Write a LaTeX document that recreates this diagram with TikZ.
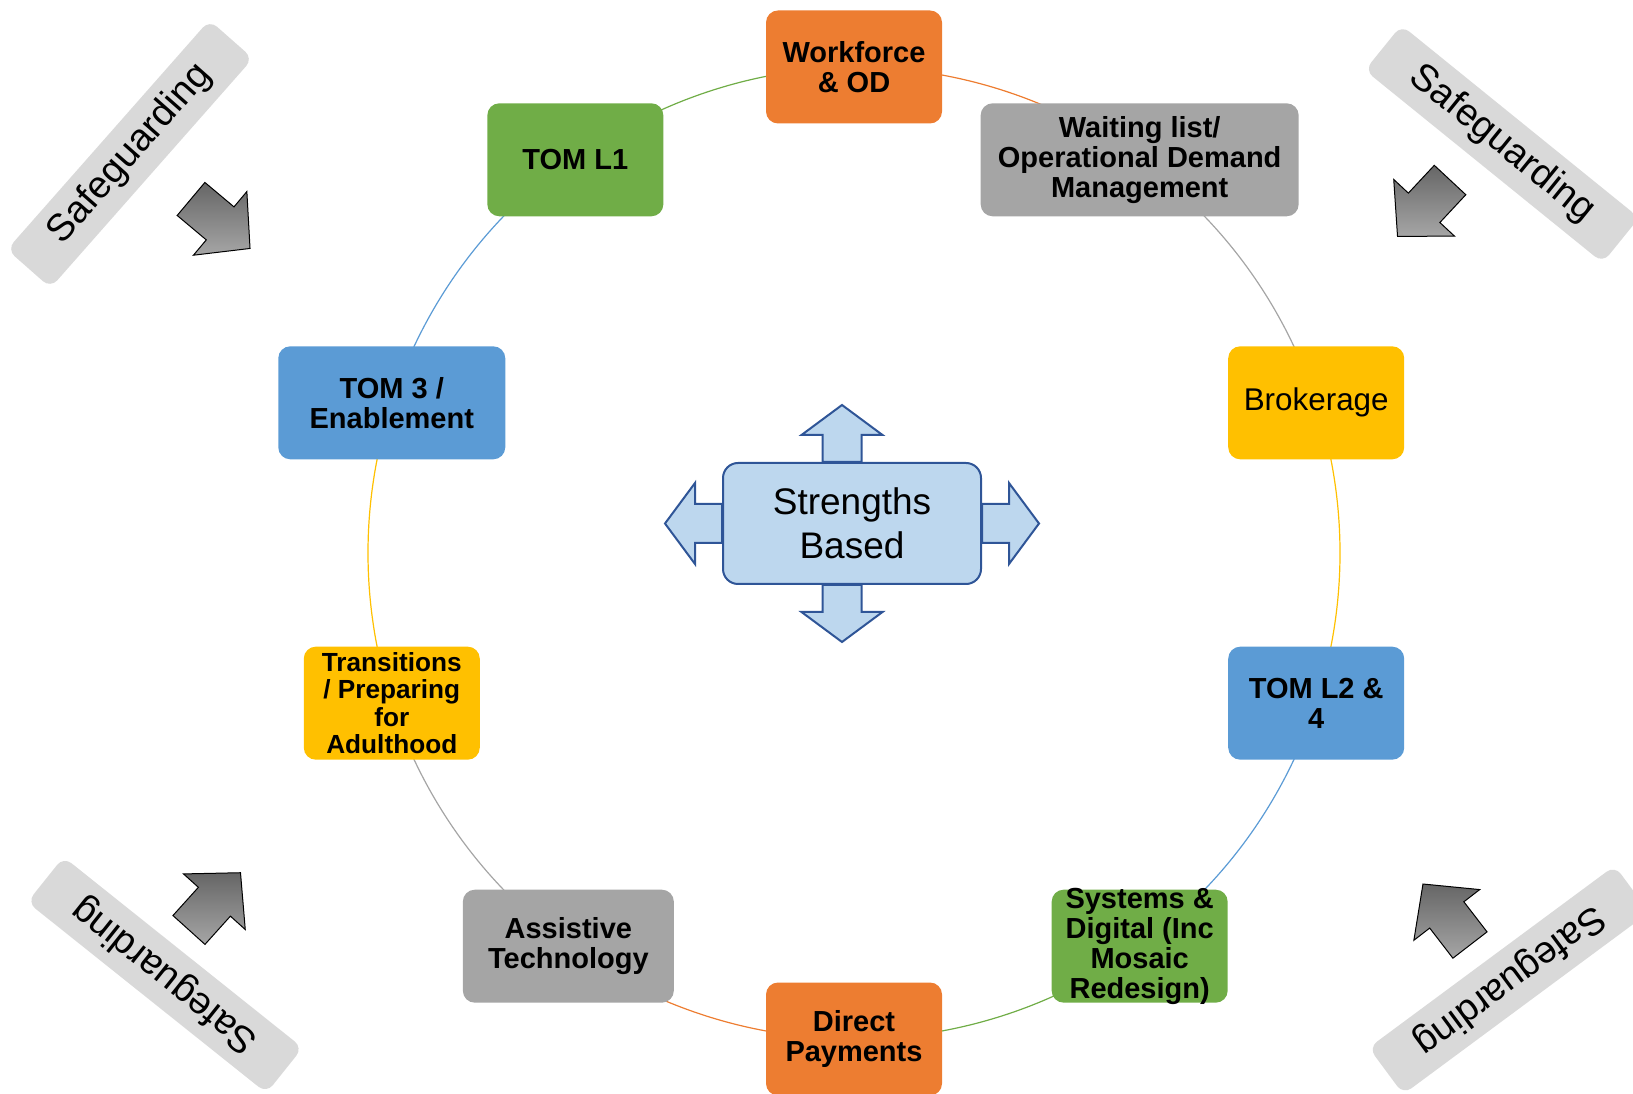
\documentclass[tikz,border=0pt]{standalone}
\usepackage{fontspec}
\setmainfont{Liberation Sans}
\usetikzlibrary{backgrounds}

\definecolor{cOrange}{HTML}{ED7D31}
\definecolor{cGreen}{HTML}{70AD47}
\definecolor{cGray}{HTML}{A5A5A5}
\definecolor{cBlue}{HTML}{5B9BD5}
\definecolor{cYellow}{HTML}{FFC000}
\definecolor{sbFill}{HTML}{BDD7EE}
\definecolor{sbLine}{HTML}{2F5597}
\definecolor{sgBand}{HTML}{D9D9D9}

\tikzset{
  box/.style={rectangle, rounded corners=6pt, align=center, inner sep=1pt,
    minimum width=88pt, minimum height=56.5pt,
    font=\bfseries\fontsize{14.5}{15}\selectfont},
  arcline/.style={line width=0.6pt},
  band/.style={rectangle, rounded corners=5pt, fill=sgBand, minimum width=153pt,
    minimum height=29pt, inner sep=0pt, font=\fontsize{19}{20}\selectfont},
  sgarrow/.style={draw=black, line width=0.5pt, top color=black!60, bottom color=black!35},
  sbshape/.style={draw=sbLine, fill=sbFill, line width=1pt},
}

\begin{document}
\begin{tikzpicture}[x=0.5pt, y=0.5pt]

\useasboundingbox (0,0) rectangle (1633,1093);

\begin{scope}[shift={(854,540)}]
\node[box, fill=cOrange] (wf) at (90:486) {Workforce\\\& OD};
\node[box, fill=cGray, minimum width=159pt] (wl) at (54:486) {Waiting list/\\Operational Demand\\Management};
\node[box, fill=cYellow, font=\fontsize{15.7}{17}\selectfont] (brk) at (18:486) {Brokerage};
\node[box, fill=cBlue] (tl24) at (-18:486) {TOM L2 \&\\4};
\node[box, fill=cGreen, inner ysep=-2pt] (sd) at (-54:486) {Systems \&\\Digital (Inc\\Mosaic\\Redesign)};
\node[box, fill=cOrange] (dp) at (-90:486) {Direct\\Payments};
\node[box, fill=cGray, minimum width=105.5pt] (ast) at (-126:486) {Assistive\\Technology};
\node[box, fill=cYellow, font=\bfseries\fontsize{13.1}{13.7}\selectfont] (tr) at (-162:486) {Transitions\\/ Preparing\\for\\Adulthood};
\node[box, fill=cBlue, minimum width=113.5pt] (t3) at (162:486) {TOM 3 /\\Enablement};
\node[box, fill=cGreen, xshift=3.5pt] (tl1) at (126:486) {TOM L1};
\end{scope}

\begin{scope}[on background layer]
\foreach \n/\a/\c in {wf/90/cOrange, wl/54/cGray, brk/18/cYellow, tl24/-18/cBlue,
    sd/-54/cGreen, dp/-90/cOrange, ast/-126/cGray, tr/-162/cYellow, t3/162/cBlue, tl1/126/cGreen}
  \draw[arcline, \c] (\n.center) arc[start angle=\a, delta angle=-36, radius=243pt];
\end{scope}

\node[sbshape, rounded corners=7.5pt, minimum width=129pt, minimum height=60.5pt, align=center,
  font=\fontsize{18.5}{22}\selectfont] (sb) at (852,569.5) {Strengths\\Based};

\foreach \ang/\anc/\dx in {0/east/0pt, 90/north/-5pt, 180/west/0pt, 270/south/-5pt}
  \draw[sbshape, shift={([xshift=\dx]sb.\anc)}, rotate=\ang]
    (0,-19.5) -- (27,-19.5) -- (27,-40.5) -- (57,0) -- (27,40.5) -- (27,19.5) -- (0,19.5) -- cycle;

\node[band, rotate=48.6] (sg1) at (130,939) {Safeguarding};
\node[band, rotate=-39] (sg2) at (1502,949) {Safeguarding};
\node[band, rotate=141.4] (sg3) at (165,118) {Safeguarding};
\node[band, rotate=216.5] (sg4) at (1509,113) {Safeguarding};

\foreach \x/\y/\a in {191/894/-40, 1450/913/227, 189/163/48, 1470/148/127.6}
  \draw[sgarrow] (\x,\y) ++(\a-90:21.5) -- ++(\a:38) -- ++(\a-90:20) -- ++(\a+46.8:57)
    -- ++(\a+133.2:57) -- ++(\a-90:20) -- ++(\a+180:38) -- cycle;

\end{tikzpicture}
\end{document}
